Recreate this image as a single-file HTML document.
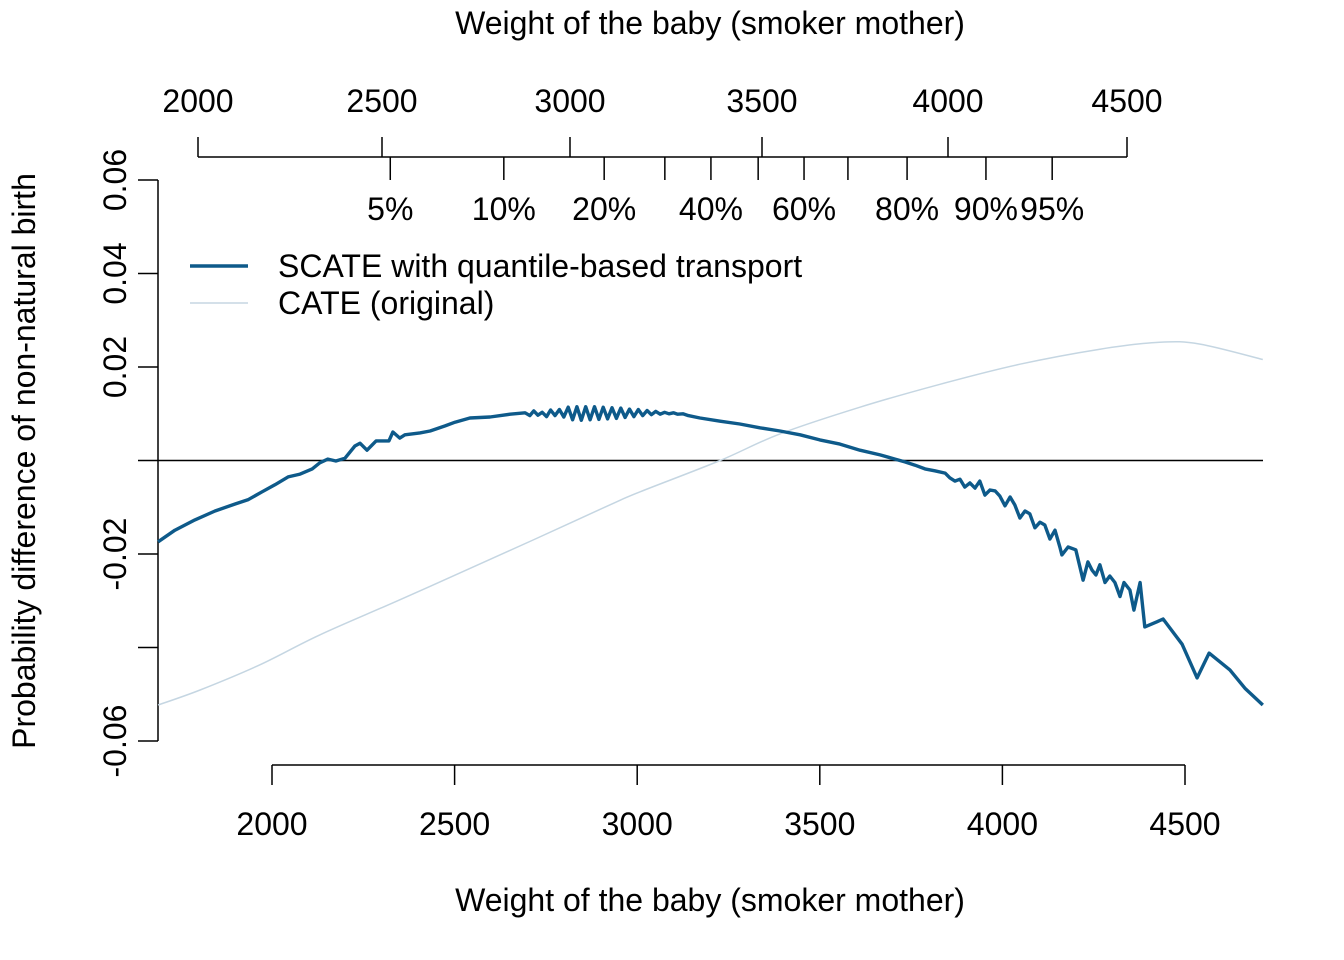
<!DOCTYPE html>
<html><head><meta charset="utf-8"><style>
html,body{margin:0;padding:0;background:#fff;}
svg{display:block;font-family:"Liberation Sans",Arial,sans-serif;}
</style></head><body>
<svg id="chart" width="1344" height="960" viewBox="0 0 1344 960">
<g id="axes"></g>
<g id="series"></g>
<g id="legend">
  <line x1="190" y1="266" x2="248" y2="266" stroke="#0e5a8a" stroke-width="3.5"/>
  <text x="278" y="277" font-size="32">SCATE with quantile-based transport</text>
  <line x1="190" y1="303" x2="248" y2="303" stroke="#c5d6e2" stroke-width="1.5"/>
  <text x="278" y="314" font-size="32">CATE (original)</text>
</g>
<text x="710" y="34" font-size="32" text-anchor="middle">Weight of the baby (smoker mother)</text>
<text x="710" y="911" font-size="32" text-anchor="middle">Weight of the baby (smoker mother)</text>
<text transform="translate(35,461) rotate(-90)" font-size="32" text-anchor="middle">Probability difference of non-natural birth</text>
</svg>
<script>
const xTicks = [2000, 2500, 3000, 3500, 4000, 4500];
const yTicks = [-0.06, -0.04, -0.02, 0, 0.02, 0.04, 0.06];
const yTickLabels = ["-0.06", "", "-0.02", "", "0.02", "0.04", "0.06"];
const topTicks = [2000, 2500, 3000, 3500, 4000, 4500];
const quantileWeights = [2522, 2824, 3089, 3247, 3367, 3490, 3613, 3731, 3890, 4106, 4291];
const quantileLabels = ["5%", "10%", "20%", "", "40%", "", "60%", "", "80%", "90%", "95%"];
const scateW = [1688,1734,1789,1844,1899,1934,1973,2008,2044,2077,2110,2131,2153,2175,2200,2227,2241,2260,2285,2320,2331,2350,2364,2405,2433,2474,2501,2542,2597,2652,2693,2706,2717,2728,2740,
2752,2763,2775,2787,2799,2811,2823,2835,2847,2859,2871,2883,2895,2907,2919,2931,2943,2955,2967,2979,2991,3003,3015,3027,3039,3051,3063,3075,3087,3099,3111,3125,3140,
3172,3227,3281,3336,3391,3446,3500,3555,3610,3665,3706,3733,3761,3788,3815,3843,3856,3870,3884,3897,3911,3925,3938,3952,3966,3980,3993,4007,4021,4034,4048,4062,4075,4089,4103,4116,4130,4144,4158,4163,4180,4201,4221,4234,4245,4256,4267,4281,4294,4308,4322,4333,4349,4360,4377,4390,4423,4440,4492,4533,4566,4623,4664,4713];
const scateV = [-17.4,-14.9,-12.7,-10.8,-9.3,-8.4,-6.7,-5.2,-3.5,-2.9,-1.8,-0.5,0.3,-0.1,0.5,3.1,3.7,2.2,4.2,4.2,6.1,4.8,5.5,5.9,6.3,7.4,8.2,9.1,9.3,9.9,10.2,9.6,10.6,9.7,10.3,
9.4,10.8,9.6,10.9,9.3,11.4,8.7,11.5,8.6,11.5,8.7,11.5,8.8,11.4,8.9,11.3,9.0,11.2,9.2,11.0,9.4,10.9,9.6,10.7,9.8,10.5,9.9,10.3,10.0,10.2,9.9,10.0,9.6,
9.1,8.4,7.8,7.0,6.3,5.5,4.4,3.5,2.2,1.2,0.3,-0.3,-1.0,-1.8,-2.2,-2.7,-3.7,-4.4,-4.0,-5.7,-4.8,-5.9,-4.4,-7.4,-6.3,-6.5,-7.6,-9.7,-7.8,-9.5,-12.3,-10.8,-11.4,-14.4,-13.2,-13.8,-16.8,-14.9,-18.7,-20.2,-18.5,-19.1,-25.6,-21.7,-23.4,-24.5,-22.3,-26.1,-24.7,-26.1,-29.1,-26.1,-27.7,-32.0,-26.1,-35.6,-34.5,-33.9,-39.3,-46.5,-41.2,-44.8,-48.7,-52.3];
const cateW = [1688,1803,1967,2131,2350,2570,2715,2925,3008,3227,3391,3610,3829,4048,4267,4431,4541,4713];
const cateV = [-52.3,-49.1,-43.7,-37.3,-29.8,-22.1,-17.0,-9.5,-6.7,0.0,5.7,11.4,16.3,20.6,23.8,25.3,24.9,21.6];

const NS = "http://www.w3.org/2000/svg";
const X0 = 158, X1 = 1263;
const xs = w => 272 + (w - 2000) * (913 / 2500);
const ys = v => 460.5 - v * (561 / 0.12);
const topDomain = [2000, 2500, 3000, 3500, 4000, 4500];
const topRange = [198, 382, 570, 762, 948, 1127];
function xt(w) {
  let i = 0;
  while (i < topDomain.length - 2 && w > topDomain[i + 1]) i++;
  return topRange[i] + (w - topDomain[i]) / (topDomain[i + 1] - topDomain[i]) * (topRange[i + 1] - topRange[i]);
}
function mk(tag, attrs, parent) {
  const e = document.createElementNS(NS, tag);
  for (const k in attrs) e.setAttribute(k, attrs[k]);
  parent.appendChild(e);
  return e;
}
const axes = document.getElementById("axes");
const series = document.getElementById("series");

let l = mk("line", {x1: xs(xTicks[0]), x2: xs(xTicks[xTicks.length - 1]), y1: 765, y2: 765, stroke: "#000", "stroke-width": 1.5}, axes);


xTicks.forEach(t => {
  const tk = mk("line", {x1: xs(t), x2: xs(t), y1: 765, y2: 785, stroke: "#000", "stroke-width": 1.5}, axes);
  
  
  const tx = mk("text", {x: xs(t), y: 835, "font-size": 32, "text-anchor": "middle"}, axes);
  tx.textContent = t;
  
  
});
l = mk("line", {x1: 158, x2: 158, y1: ys(0.06), y2: ys(-0.06), stroke: "#000", "stroke-width": 1.5}, axes);


yTicks.forEach((t, i) => {
  const tk = mk("line", {x1: 138, x2: 158, y1: ys(t), y2: ys(t), stroke: "#000", "stroke-width": 1.5}, axes);
  
  
  if (yTickLabels[i]) {
    const tx = mk("text", {x: 0, y: 0, "font-size": 32, "text-anchor": "middle", transform: `translate(126,${ys(t)}) rotate(-90)`}, axes);
    tx.textContent = yTickLabels[i];
    
    
  }
});
l = mk("line", {x1: xt(topTicks[0]), x2: xt(topTicks[topTicks.length - 1]), y1: 157, y2: 157, stroke: "#000", "stroke-width": 1.5}, axes);


topTicks.forEach(t => {
  const tk = mk("line", {x1: xt(t), x2: xt(t), y1: 137, y2: 157, stroke: "#000", "stroke-width": 1.5}, axes);
  
  
  const tx = mk("text", {x: xt(t), y: 112, "font-size": 32, "text-anchor": "middle"}, axes);
  tx.textContent = t;
  
  
});
quantileWeights.forEach((w, i) => {
  const tk = mk("line", {x1: xt(w), x2: xt(w), y1: 157, y2: 180, stroke: "#000", "stroke-width": 1.5}, axes);
  
  
  if (quantileLabels[i]) {
    const tx = mk("text", {x: xt(w), y: 220, "font-size": 32, "text-anchor": "middle"}, axes);
    tx.textContent = quantileLabels[i];
    
    
  }
});
l = mk("line", {x1: X0, x2: X1, y1: ys(0), y2: ys(0), stroke: "#000", "stroke-width": 1.5}, series);



function smoothPath(pts) {
  let d = "M" + pts[0][0].toFixed(1) + "," + pts[0][1].toFixed(1);
  for (let i = 0; i < pts.length - 1; i++) {
    const p0 = pts[Math.max(0, i - 1)], p1 = pts[i], p2 = pts[i + 1], p3 = pts[Math.min(pts.length - 1, i + 2)];
    const c1x = p1[0] + (p2[0] - p0[0]) / 6, c1y = p1[1] + (p2[1] - p0[1]) / 6;
    const c2x = p2[0] - (p3[0] - p1[0]) / 6, c2y = p2[1] - (p3[1] - p1[1]) / 6;
    d += " C" + c1x.toFixed(1) + "," + c1y.toFixed(1) + " " + c2x.toFixed(1) + "," + c2y.toFixed(1) + " " + p2[0].toFixed(1) + "," + p2[1].toFixed(1);
  }
  return d;
}
const cp = mk("path", {d: smoothPath(cateW.map((w, i) => [xs(w), ys(cateV[i] / 1000)])), fill: "none", stroke: "#c5d6e2", "stroke-width": 1.5}, series);


const sp = mk("polyline", {points: scateW.map((w, i) => xs(w).toFixed(1) + "," + ys(scateV[i] / 1000).toFixed(1)).join(" "), fill: "none", stroke: "#0e5a8a", "stroke-width": 3.4, "stroke-linejoin": "round"}, series);


</script>
</body></html>
